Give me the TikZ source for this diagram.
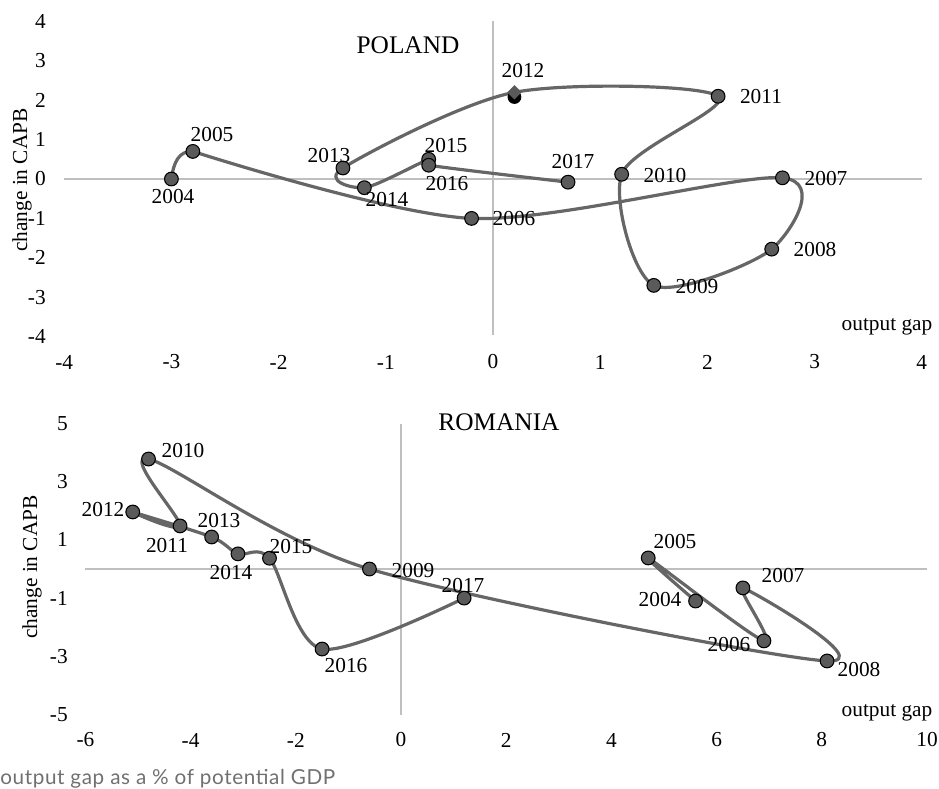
\documentclass[tikz,border=0pt]{standalone}
\usepackage{fontspec}
\setmainfont{Liberation Serif}
\newfontfamily\latofont[LetterSpace=3]{Lato}
\usetikzlibrary{shapes.geometric,calc}
\definecolor{curvecol}{HTML}{666666}
\definecolor{mkfill}{HTML}{5A5A5A}
\definecolor{axisgray}{HTML}{BFBFBF}
\definecolor{footcol}{HTML}{707070}
\begin{document}
\begin{tikzpicture}[x=0.75pt,y=-0.75pt,
  axisline/.style={draw=axisgray,line width=1.1pt},
  curveline/.style={draw=curvecol,line width=2.4pt,line join=round,line cap=round,smooth,tension=0.5},
  mk/.style={circle,fill=mkfill,draw=black,line width=0.8pt,minimum size=10.3pt,inner sep=0pt},
  lbl/.style={font=\fontsize{16}{18}\selectfont,inner sep=0pt},
  ttl/.style={font=\fontsize{19}{22}\selectfont,inner sep=0pt}]
\useasboundingbox (0,0) rectangle (939,789);

% ---------------- POLAND ----------------
\begin{scope}[shift={(493,179)},x=80.4pt,y=29.55pt]
  \draw[axisline] (-4,0) -- (4,0);
  \draw[axisline] (0,-3.96) -- (0,4);
  \coordinate (p04) at (-3,0);
  \coordinate (p05) at (-2.8,0.7);
  \coordinate (p06) at (-0.2,-1.0);
  \coordinate (p07) at (2.7,0.03);
  \coordinate (p08) at (2.6,-1.78);
  \coordinate (p09) at (1.5,-2.7);
  \coordinate (p10) at (1.2,0.12);
  \coordinate (p11) at (2.1,2.1);
  \coordinate (p12) at (0.2,2.2);
  \coordinate (p13) at (-1.4,0.28);
  \coordinate (p14) at (-1.2,-0.22);
  \coordinate (p15) at (-0.6,0.5);
  \coordinate (p16) at (-0.6,0.35);
  \coordinate (p17) at (0.7,-0.08);
  \draw[curveline] (p04) .. controls ($(p04)+(0.02,0.42)$) and ($(p05)+(-0.13,0.02)$) .. (p05);
  \draw[curveline] plot coordinates {(p05) (p06) (p07) (p08) (p09) (p10) (p11) (p12) (p13) (p14) (p15) (p16) (p17)};
  \foreach \y in {04,05,06,07,08,09,10,11,13,14,15,16,17}
    \node[mk] (pm\y) at (p\y) {};
  \node[circle,fill=black,minimum size=10.3pt,inner sep=0pt] (pm12) at (0.2,2.08) {};
  \node[diamond,fill=mkfill,minimum size=11pt,inner sep=0pt] (pd12) at (0.2,2.2) {};
\end{scope}

\node[ttl] (ptitle) at (408,45) {POLAND};
\node[lbl,rotate=90] (pylab) at (22,180) {change in CAPB};
\node[lbl] (pxlab) at (887,327) {output gap};
\foreach \v [count=\i from 0] in {-4,-3,-2,-1,0,1,2,3,4}
  \node[lbl] (pxt\i) at ({493+107.2*(\i-4)},362) {\v};
\foreach \v [count=\i from 0] in {-4,-3,-2,-1,0,1,2,3,4}
  \node[lbl,anchor=east] (pyt\i) at (46,{179-39.4*(\i-4)}) {\v};

\node[lbl] (pl04) at (173,197) {2004};
\node[lbl] (pl05) at (212,135) {2005};
\node[lbl] (pl06) at (514,219) {2006};
\node[lbl] (pl07) at (826,179) {2007};
\node[lbl] (pl08) at (815,250) {2008};
\node[lbl] (pl09) at (697,287) {2009};
\node[lbl] (pl10) at (665,176) {2010};
\node[lbl] (pl11) at (761,97) {2011};
\node[lbl] (pl12) at (523,71) {2012};
\node[lbl] (pl13) at (329,156) {2013};
\node[lbl] (pl14) at (387,200) {2014};
\node[lbl] (pl15) at (446,146) {2015};
\node[lbl] (pl16) at (447,184) {2016};
\node[lbl] (pl17) at (573,162) {2017};

% ---------------- ROMANIA ----------------
\begin{scope}[shift={(401,569)},x=39.45pt,y=21.825pt]
  \draw[axisline] (-6,0) -- (10,0);
  \draw[axisline] (0,-5) -- (0,5);
  \coordinate (r04) at (5.6,-1.1);
  \coordinate (r05) at (4.7,0.38);
  \coordinate (r06) at (6.9,-2.47);
  \coordinate (r07) at (6.5,-0.65);
  \coordinate (r08) at (8.1,-3.16);
  \coordinate (r09) at (-0.6,0);
  \coordinate (r10) at (-4.8,3.78);
  \coordinate (r11) at (-4.2,1.48);
  \coordinate (r12) at (-5.1,1.96);
  \coordinate (r13) at (-3.6,1.1);
  \coordinate (r14) at (-3.1,0.52);
  \coordinate (r15) at (-2.5,0.37);
  \coordinate (r16) at (-1.5,-2.75);
  \coordinate (r17) at (1.2,-1.0);
  \draw[curveline] plot coordinates {(r04) (r05) (r06) (r07) (r08) (r09) (r10) (r11) (r12) (r13) (r14) (r15) (r16) (r17)};
  \foreach \y in {04,05,06,07,08,09,10,11,12,13,14,15,16,17}
    \node[mk] (rm\y) at (r\y) {};
\end{scope}

\node[ttl] (rtitle) at (499,422) {ROMANIA};
\node[lbl,rotate=90] (rylab) at (32,567) {change in CAPB};
\node[lbl] (rxlab) at (887,713) {output gap};
\foreach \v [count=\i from 0] in {-6,-4,-2,0,2,4,6,8,10}
  \node[lbl] (rxt\i) at ({401+52.6*(2*\i-6)},740) {\v};
\foreach \v [count=\i from 0] in {5,3,1,-1,-3,-5}
  \node[lbl,anchor=east] (ryt\i) at (68,{569-29.1*(5-2*\i)}) {\v};

\node[lbl] (rl04) at (660,600) {2004};
\node[lbl] (rl05) at (675,542) {2005};
\node[lbl] (rl06) at (729,645) {2006};
\node[lbl] (rl07) at (783,576) {2007};
\node[lbl] (rl08) at (859,670) {2008};
\node[lbl] (rl09) at (413,571) {2009};
\node[lbl] (rl10) at (183,451) {2010};
\node[lbl] (rl11) at (167,546) {2011};
\node[lbl] (rl12) at (103,510) {2012};
\node[lbl] (rl13) at (219,521) {2013};
\node[lbl] (rl14) at (231,573) {2014};
\node[lbl] (rl15) at (291,547) {2015};
\node[lbl] (rl16) at (346,666) {2016};
\node[lbl] (rl17) at (463,586) {2017};

\node[anchor=base west,inner sep=0pt,text=footcol,font=\latofont\fontsize{15.5}{18}\selectfont] (foot) at (0,784) {output gap as a \% of potential GDP};
\end{tikzpicture}
\end{document}
